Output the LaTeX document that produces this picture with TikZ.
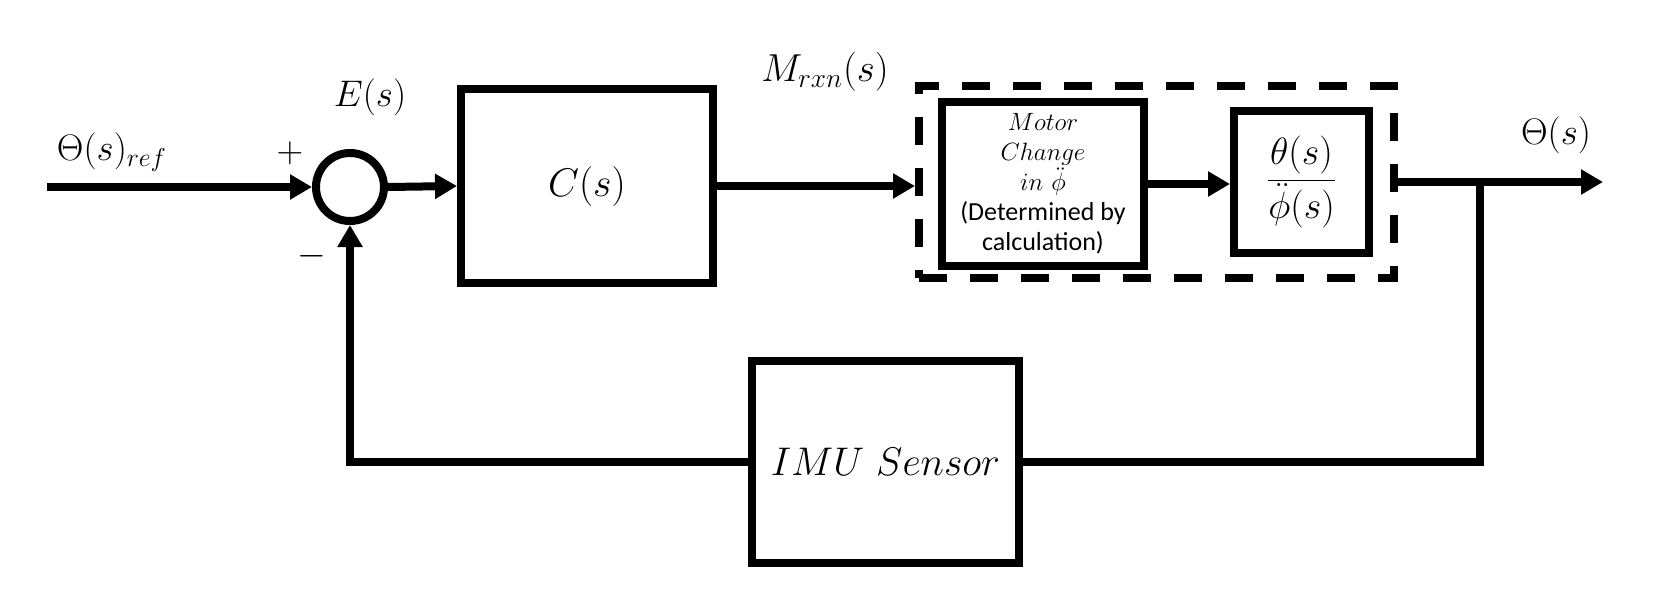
\RequirePackage{fix-cm}
\documentclass[tikz,border=0pt]{standalone}
\usepackage{fontspec}
\newfontfamily\calib{Carlito}
\usetikzlibrary{arrows.meta}
\begin{document}
\begin{tikzpicture}[x=0.5pt,y=-0.5pt,line width=4pt,
  blk/.style={draw,line width=4pt,inner sep=0pt,rectangle},
  arr/.style={-{Triangle[length=11pt,width=12pt]},line width=4pt},
  lbl/.style={inner sep=0pt},
  bigl/.style={font=\fontsize{18.5}{22}\selectfont}]
\useasboundingbox (0,0) rectangle (1662,589);
% blocks
\node[draw,circle,line width=4pt,minimum size=34pt,inner sep=0pt] (sum) at (350,187) {};
\node[blk,minimum width=126pt,minimum height=97pt,font=\fontsize{20}{24}\selectfont] (C) at (587,186) {$C(s)$};
\node[draw,line width=4pt,dash pattern=on 14pt off 11.5pt,inner sep=0pt,minimum width=237.5pt,minimum height=96pt] (plant) at (1156.5,182) {};
\node[blk,minimum width=101pt,minimum height=82pt,align=center,font=\fontsize{12.5}{15}\selectfont] (motor) at (1043,184)
  {$Motor$\\ $Change$\\ $in\ \ddot{\phi}$\\ {\calib\fontsize{13}{15}\selectfont (Determined by}\\ {\calib\fontsize{13}{15}\selectfont calculation)}};
\node[blk,minimum width=67.5pt,minimum height=71pt,font=\fontsize{19}{22}\selectfont] (frac) at (1301.5,182)
  {$\displaystyle\frac{\theta(s)}{\ddot{\phi}(s)}$};
\node[blk,minimum width=133.5pt,minimum height=101pt,font=\fontsize{20}{24}\selectfont] (imu) at (885.5,462) {$IMU\ Sensor$};
% coordinates
\coordinate (in) at (47,187);
\coordinate (out) at (1603,182);
\coordinate (br) at (1480,182);
% connectors
\draw[arr] (in) -- (sum.west);
\draw[arr] (sum.east) -- (C.west);
\draw[arr] (C.east) -- (plant.west |- C.east);
\draw[arr] (motor.east) -- (frac.west |- motor.east);
\draw[arr] (plant.east) -- (out);
\draw (br) |- (imu.east);
\draw[arr] (imu.west) -| (sum.south);
% labels
\node[lbl,bigl] (lref) at (112,152) {$\Theta(s)_{ref}$};
\node[lbl,bigl] (lplus) at (290,153) {$+$};
\node[lbl,bigl] (lminus) at (312,256) {$-$};
\node[lbl,bigl] (lE) at (370,97) {$E(s)$};
\node[lbl,font=\fontsize{19.5}{23}\selectfont] (lM) at (825,72) {$M_{rxn}(s)$};
\node[lbl,bigl] (lout) at (1556,135) {$\Theta(s)$};
\end{tikzpicture}
\end{document}
